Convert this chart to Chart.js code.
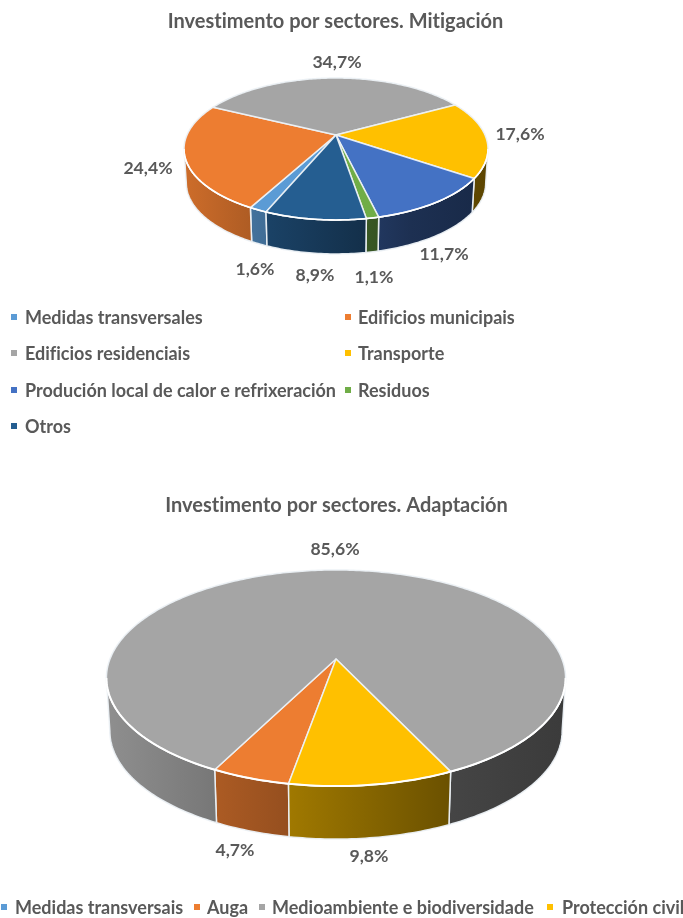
<!DOCTYPE html>
<html><head><meta charset="utf-8">
<script src="https://cdn.jsdelivr.net/npm/chart.js@4/dist/chart.umd.min.js"></script>
<style>
html,body{margin:0;padding:0;background:#fff;width:683px;height:918px;overflow:hidden}
#wrap{position:relative;width:683px;height:918px;filter:blur(.45px)}
canvas{position:absolute;left:0}
.lg{position:absolute;font:bold 18px Lato,sans-serif;font-variant-ligatures:none;color:#595959;white-space:nowrap;line-height:20px;height:20px}
.sq{position:absolute;width:6px;height:6px}
</style></head><body>
<div id="wrap">
<canvas id="c1" width="683" height="455" style="top:0"></canvas>
<canvas id="c2" width="683" height="463" style="top:455px"></canvas>
</div>
<script>
const mitigationTitle = 'Investimento por sectores. Mitigación';
const mitigationLabels = ['Medidas transversales','Edificios municipais','Edificios residenciais','Transporte','Produción local de calor e refrixeración','Residuos','Otros'];
const mitigationValues = [1.6,24.4,34.7,17.6,11.7,1.1,8.9];
const mitigationColors = ['#5B9BD5','#ED7D31','#A5A5A5','#FFC000','#4472C4','#70AD47','#255E91'];

const adaptationTitle = 'Investimento por sectores. Adaptación';
const adaptationLabels = ['Medidas transversais','Auga','Medioambiente e biodiversidade','Protección civil'];
const adaptationValues = [0,4.7,85.6,9.8];
const adaptationColors = ['#5B9BD5','#ED7D31','#A5A5A5','#FFC000'];

const FONT = 'Lato, sans-serif';
const TEXT = '#595959';

function shade(hex,f){
  const n=parseInt(hex.slice(1),16);
  return `rgb(${Math.round((n>>16&255)*f)},${Math.round((n>>8&255)*f)},${Math.round((n&255)*f)})`;
}

// Perspective drawing of the library's arc elements
const pie3d = {
  id:'pie3d',
  beforeDraw(chart){ chart.ctx.letterSpacing='0.01px'; },
  beforeDatasetDraw(chart){
    const o = chart.options.plugins.pie3d, ctx = chart.ctx;
    const arcs = chart.getDatasetMeta(0).data;
    const colors = chart.data.datasets[0].backgroundColor;
    const project = (a,bottom)=>{
      const u=Math.cos(a), v=Math.sin(a), w=1-o.k*v;
      const d=bottom?o.depth:0, sc=bottom?o.bottomScale:1;
      return [o.cx+o.R*sc*u/w, o.cy+d+o.S*v/w];
    };
    const vis0=Math.asin(o.k), vis1=Math.PI-vis0;
    ctx.save();
    ctx.lineJoin='round';
    // side walls
    arcs.forEach((arc,i)=>{
      if(arc.endAngle-arc.startAngle<=0) return;
      for(const sh of [-2,0,2]){
        const a0=Math.max(arc.startAngle+sh*Math.PI,vis0), a1=Math.min(arc.endAngle+sh*Math.PI,vis1);
        if(a1<=a0) continue;
        const n=Math.max(2,Math.ceil((a1-a0)*60));
        ctx.beginPath();
        for(let j=0;j<=n;j++){const p=project(a0+(a1-a0)*j/n,false); j?ctx.lineTo(p[0],p[1]):ctx.moveTo(p[0],p[1]);}
        for(let j=n;j>=0;j--){const p=project(a0+(a1-a0)*j/n,true); ctx.lineTo(p[0],p[1]);}
        ctx.closePath();
        const g=ctx.createLinearGradient(o.cx-o.R,0,o.cx+o.R,0);
        g.addColorStop(0,shade(colors[i],.86));
        g.addColorStop(.75,shade(colors[i],.42));
        g.addColorStop(1,shade(colors[i],.36));
        ctx.fillStyle=g; ctx.fill();
        ctx.strokeStyle=o.edge; ctx.lineWidth=o.line; ctx.stroke();
      }
    });
    // top surface
    arcs.forEach((arc,i)=>{
      const a0=arc.startAngle,a1=arc.endAngle;
      if(a1-a0<=0) return;
      const n=Math.max(2,Math.ceil((a1-a0)*60));
      ctx.beginPath();
      ctx.moveTo(o.cx,o.cy);
      for(let j=0;j<=n;j++){const p=project(a0+(a1-a0)*j/n,false); ctx.lineTo(p[0],p[1]);}
      ctx.closePath();
      ctx.fillStyle=colors[i]; ctx.fill();
      ctx.strokeStyle=o.edge; ctx.lineWidth=o.line; ctx.stroke();
    });
    // bright front rim
    ctx.beginPath();
    for(let j=0;j<=120;j++){const p=project(vis0+(vis1-vis0)*j/120,false); j?ctx.lineTo(p[0],p[1]):ctx.moveTo(p[0],p[1]);}
    ctx.strokeStyle='#fff'; ctx.lineWidth=o.rim; ctx.stroke();
    ctx.restore();
    return false;
  },
  afterDatasetsDraw(chart){
    const o = chart.options.plugins.pie3d, ctx = chart.ctx;
    const vals = chart.data.datasets[0].data;
    ctx.save();
    ctx.font=o.labelFont; ctx.fillStyle=TEXT; ctx.textAlign='center'; ctx.textBaseline='middle';
    vals.forEach((v,i)=>{
      if(!v) return;
      const p=o.labelPos[i];
      ctx.fillText(v.toFixed(1).replace('.',',')+'%',p[0],p[1]);
    });
    ctx.restore();
  }
};

function makeChart(id,title,labels,values,colors,rotation,titlePad,padRight,geom){
  return new Chart(document.getElementById(id),{
    type:'pie',
    data:{labels,datasets:[{data:values,backgroundColor:colors,borderWidth:0}]},
    plugins:[pie3d],
    options:{
      responsive:false,animation:false,rotation,
      events:[],
      layout:{padding:{right:padRight}},
      plugins:{
        legend:{display:false},tooltip:{enabled:false},
        title:{display:true,text:title,color:TEXT,font:{family:FONT,size:20,weight:'bold'},padding:{top:titlePad,bottom:0}},
        pie3d:geom
      }
    }
  });
}

const chart1=makeChart('c1',mitigationTitle,mitigationLabels,mitigationValues,mitigationColors,202.6,10,12,{
  cx:336,cy:135,R:149,S:68.2,k:.197,depth:34,bottomScale:.985,edge:'rgba(236,241,246,.95)',line:1.5,rim:1.6,
  labelFont:'bold 17.6px '+FONT,
  labelPos:[[255,269],[148,168],[337,62],[520,134],[444,254],[374,277],[315,275]]
});
const chart2=makeChart('c2',adaptationTitle,adaptationLabels,adaptationValues,adaptationColors,190,39,10,{
  cx:336,cy:204,R:226,S:104.7,k:.176,depth:53,bottomScale:.985,edge:'rgba(236,241,246,.95)',line:1.5,rim:2,
  labelFont:'bold 17.6px '+FONT,
  labelPos:[[0,0],[235,395],[335,94],[369,401]]
});

function legend(chart,pos){
  const wrap=document.getElementById('wrap');
  const cols=chart.data.datasets[0].backgroundColor;
  chart.data.labels.forEach((t,i)=>{
    const [sx,tx,y]=pos[i];
    const s=document.createElement('div');s.className='sq';s.style.cssText=`left:${sx}px;top:${y-3}px;background:${cols[i]}`;
    const d=document.createElement('div');d.className='lg';d.textContent=t;d.style.cssText=`left:${tx}px;top:${y-10}px`;
    wrap.append(s,d);
  });
}
legend(chart1,[[11,25,317],[345,358,317],[11,25,353],[345,358,353],[11,25,390],[345,358,390],[11,25,426]]);
legend(chart2,[[1,15,907],[194,207,907],[259,272,907],[547,562,907]]);
</script>
</body></html>
